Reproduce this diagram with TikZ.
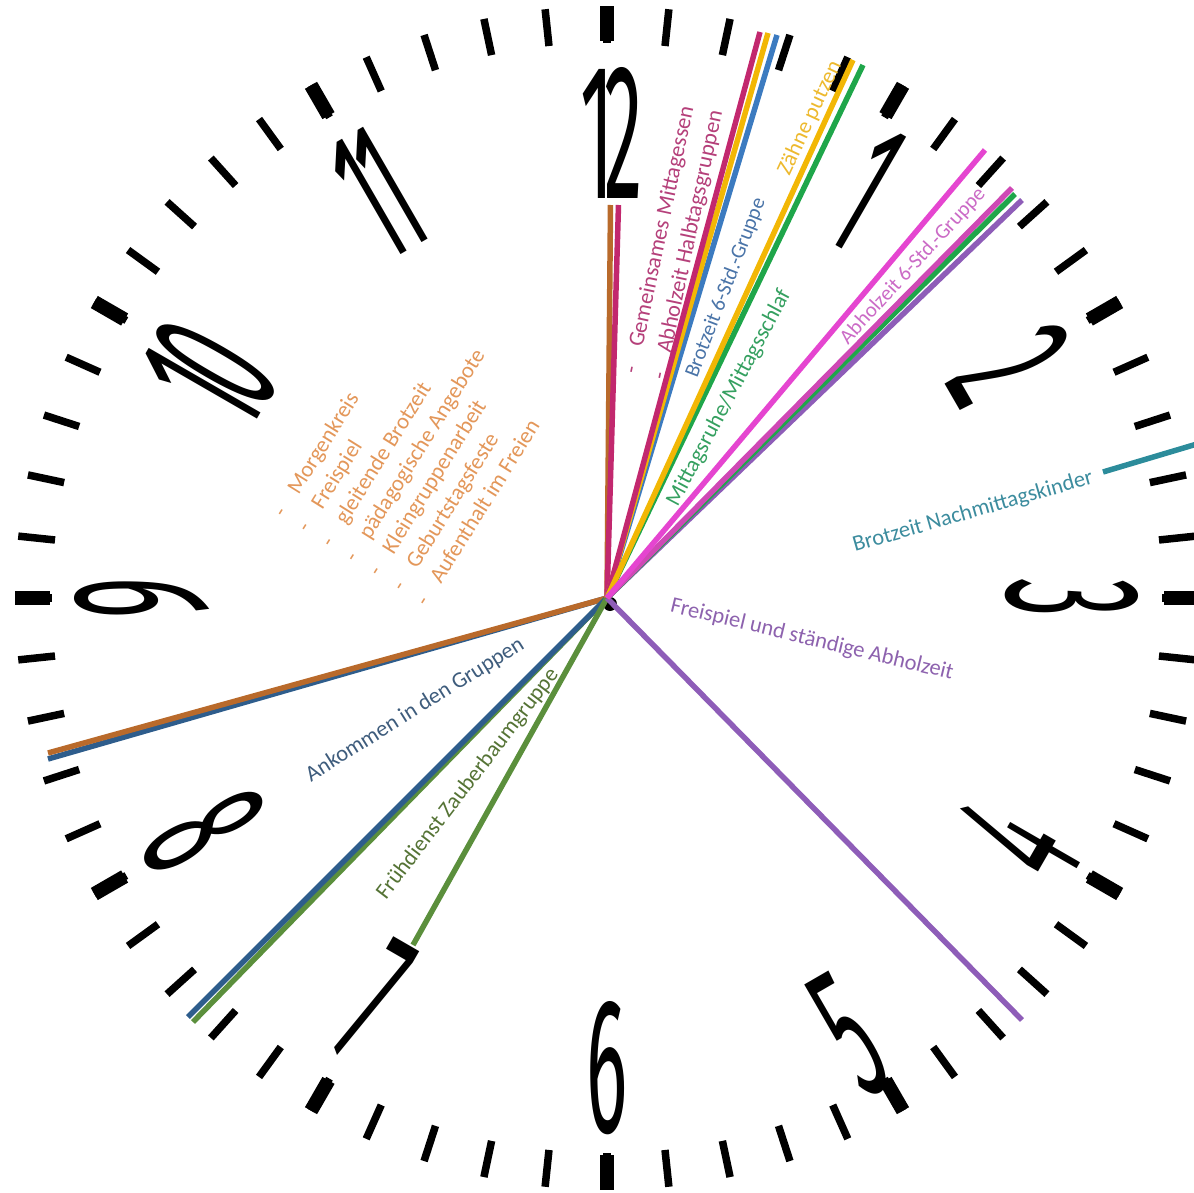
\documentclass[tikz,border=0pt]{standalone}
\usepackage{fontspec}
\setmainfont{Carlito}
\newfontfamily\zifferfont{Fira Sans}
\usepackage{graphicx}
\usepackage{tikz}

% Farben der Zeitabschnitte
\definecolor{morgen}{HTML}{B96A2B}
\definecolor{morgentext}{HTML}{E3975A}
\definecolor{essen}{HTML}{C2286E}
\definecolor{essentext}{HTML}{B5407A}
\definecolor{zaehne}{HTML}{F2B705}
\definecolor{zaehnetext}{HTML}{EDB92E}
\definecolor{brotsechs}{HTML}{3C7BC0}
\definecolor{brotsechstext}{HTML}{4A74A8}
\definecolor{ruhe}{HTML}{1FA64A}
\definecolor{ruhetext}{HTML}{35A060}
\definecolor{rosa}{HTML}{E545D0}
\definecolor{abholsechs}{HTML}{CF48B5}
\definecolor{abholsechstext}{HTML}{CB6BC6}
\definecolor{frei}{HTML}{8E5DB8}
\definecolor{freitext}{HTML}{8D62AE}
\definecolor{nachmittag}{HTML}{2C8C9B}
\definecolor{nachmittagtext}{HTML}{3C8C9E}
\definecolor{ankommen}{HTML}{2E5D8C}
\definecolor{ankommentext}{HTML}{3E5C7C}
\definecolor{frueh}{HTML}{5B8F3C}
\definecolor{fruehtext}{HTML}{557335}

\begin{document}
\begin{tikzpicture}[x=1pt, y=1pt,
    minute/.style={line width=7.5pt},
    stunde/.style={line width=14pt},
    ziffer/.style={font=\zifferfont, inner sep=0pt},
    linie/.style={line width=5.5pt},
    etikett/.style={font={\fontsize{22.5}{28}\selectfont}, inner sep=0pt, align=left}]

    \useasboundingbox (-607,-594) rectangle (587,598);

    % Zifferblatt
    \foreach \m in {0,...,59}
        \draw[minute] (\m*6:555) -- (\m*6:592);
    \foreach \h in {1,...,12}
        \draw[stunde] (90-\h*30:557) -- (90-\h*30:592);

    % Ziffern
    \foreach \h/\a/\w/\r/\txt in {1/57.5/-30/485/1, 2/30/-60/465/2, 3/0/-90/465/3, 4/-30.5/60/477/4, 5/-61/30/500/5, 6/-90/0/470/6, 7/-120/-30/465/7, 8/-150/-60/465/8, 9/180/90/465/9, 10/150.5/60/457/{1\kern-.12em0}, 11/119.5/30/465/{1\kern-.12em1}, 12/89.4/0/465/{1\kern-.12em2}}
        \node[ziffer, rotate=\w] (ziffer\h) at (\a:\r) {\scalebox{0.4}[1]{\fontsize{193}{193}\selectfont\txt}};

    % Mittelpunkt
    \fill (3,-6) circle (7);
    \coordinate (mitte) at (0,0);

    % Endpunkte
    \coordinate (morgen12) at (3.5,393);
    \coordinate (essen12) at (11.5,393);
    \coordinate (essenEnde) at (153,566);
    \coordinate (zaehneStart) at (161,565);
    \coordinate (brotsechsStart) at (170,563);
    \coordinate (zaehneEnde) at (246,538);
    \coordinate (ruheStart) at (256,533);
    \coordinate (brotsechsEnde) at (378,448);
    \coordinate (abholsechs) at (405,410);
    \coordinate (ruheEnde) at (408,404);
    \coordinate (freiStart) at (415,398);
    \coordinate (freiEnde) at (415,-422);
    \coordinate (nachmittagA) at (496,126);
    \coordinate (nachmittagB) at (600,157);
    \coordinate (morgenStart) at (-559,-155);
    \coordinate (ankommenA) at (-559,-161);
    \coordinate (ankommenB) at (-419,-419);
    \coordinate (fruehA) at (-414,-424);
    \coordinate (fruehB) at (-194,-347);

    % Linien
    \draw[linie, ankommen] (mitte) -- (ankommenA);
    \draw[linie, morgen] (mitte) -- (morgenStart);
    \draw[linie, frueh] (mitte) -- (fruehA);
    \draw[linie, ankommen] (mitte) -- (ankommenB);
    \draw[linie, frueh] (mitte) -- (fruehB);
    \draw[linie, frei] (mitte) -- (freiEnde);
    \draw[linie, morgen] (mitte) -- (morgen12);
    \draw[linie, essen] (mitte) -- (essen12);
    \draw[linie, brotsechs] (mitte) -- (brotsechsStart);
    \draw[linie, zaehne] (mitte) -- (zaehneStart);
    \draw[linie, essen] (mitte) -- (essenEnde);
    \draw[linie, ruhe] (mitte) -- (ruheStart);
    \draw[linie, zaehne] (mitte) -- (zaehneEnde);
    \draw[linie, frei] (mitte) -- (freiStart);
    \draw[linie, ruhe] (mitte) -- (ruheEnde);
    \draw[linie, abholsechs] (mitte) -- (abholsechs);
    \draw[linie, rosa] (mitte) -- (brotsechsEnde);
    \draw[linie, nachmittag] (nachmittagA) -- (nachmittagB);

    % Beschriftungen
    \node[etikett, text=morgentext, rotate=58] (morgenkreis) at (-193,143)
        {-\hspace{20pt}Morgenkreis\\-\hspace{20pt}Freispiel\\-\hspace{20pt}gleitende Brotzeit\\-\hspace{20pt}pädagogische Angebote\\-\hspace{20pt}Kleingruppenarbeit\\-\hspace{20pt}Geburtstagsfeste\\-\hspace{20pt}Aufenthalt im Freien};
    \node[etikett, text=essentext, rotate=78, font={\fontsize{22.5}{29}\selectfont}] (mittagessen) at (67,356)
        {-\hspace{20pt}Gemeinsames Mittagessen\\-\hspace{20pt}Abholzeit Halbtagsgruppen};
    \node[etikett, text=brotsechstext, rotate=69, font={\fontsize{21}{26}\selectfont}] (brotzeitsechs) at (119,310) {Brotzeit 6-Std.-Gruppe};
    \node[etikett, text=zaehnetext, rotate=65] (zaehneputzen) at (203,480) {Zähne putzen};
    \node[etikett, text=ruhetext, rotate=62] (mittagsruhe) at (122,200) {Mittagsruhe/Mittagsschlaf};
    \node[etikett, text=abholsechstext, rotate=47.5, font={\fontsize{21}{26}\selectfont}] (abholzeitsechs) at (306,332) {Abholzeit 6-Std.-Gruppe};
    \node[etikett, text=nachmittagtext, rotate=16] (brotzeitnachmittag) at (366,86) {Brotzeit Nachmittagskinder};
    \node[etikett, text=freitext, rotate=-13.5] (freispiel) at (205,-42) {Freispiel und ständige Abholzeit};
    \node[etikett, text=ankommentext, rotate=32] (ankommengruppen) at (-192,-112) {Ankommen in den Gruppen};
    \node[etikett, text=fruehtext, rotate=52.5] (fruehdienst) at (-139,-186) {Frühdienst Zauberbaumgruppe};

\end{tikzpicture}
\end{document}
